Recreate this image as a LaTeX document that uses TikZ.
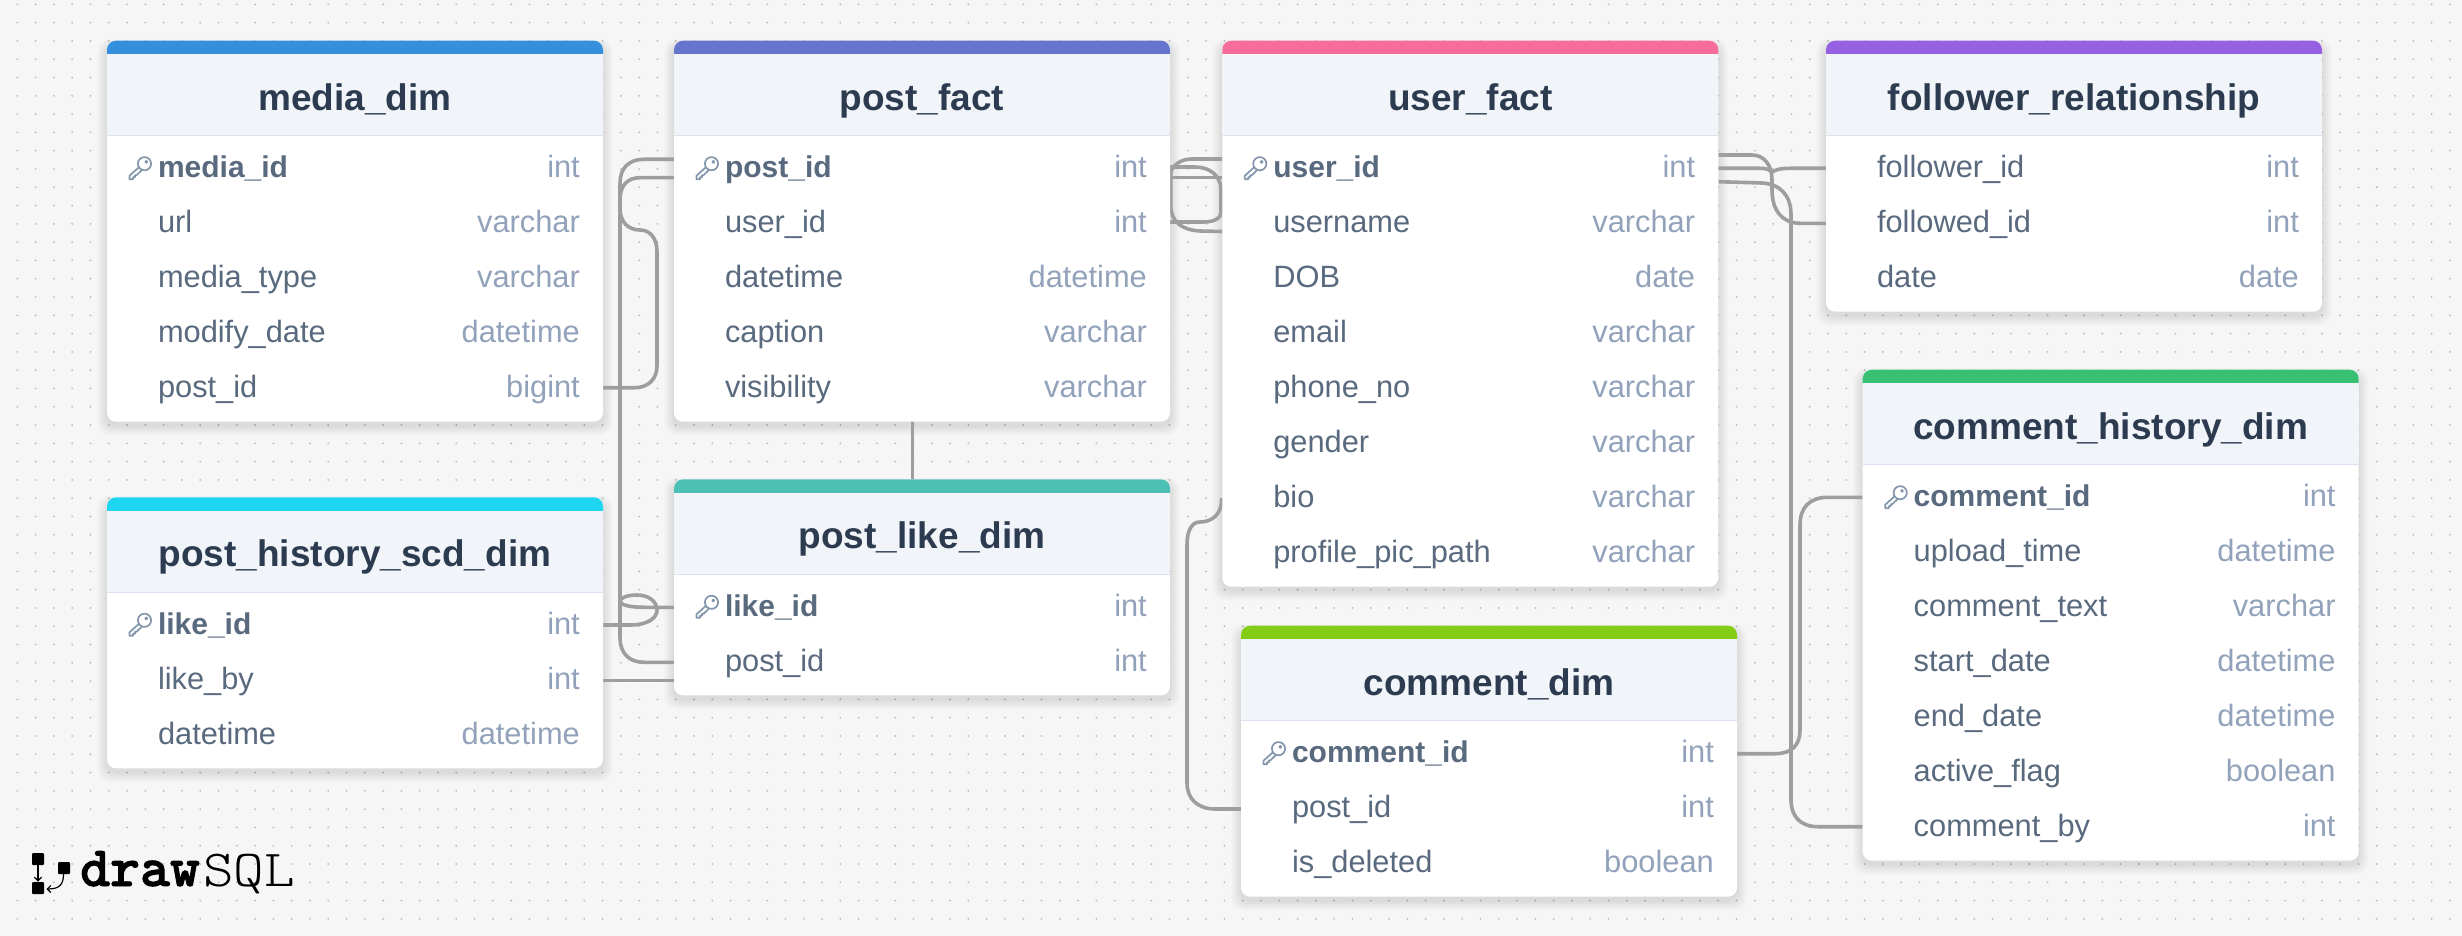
\documentclass[tikz,border=0pt]{standalone}
\usepackage{fontspec}
\setmainfont{Liberation Sans}
\newfontfamily\logobold{lmmonolt10-bold.otf}[FakeBold=1.6]
\newfontfamily\logolight{lmmonolt10-regular.otf}
\usetikzlibrary{arrows.meta}
\pgfdeclarelayer{dotlayer}
\pgfdeclarelayer{shadowlayer}
\pgfdeclarelayer{linklayer}
\pgfsetlayers{dotlayer,shadowlayer,linklayer,main}
\definecolor{pagebg}{HTML}{F6F6F6}
\definecolor{dotc}{HTML}{BEBEBE}
\definecolor{linkc}{HTML}{9E9E9E}
\definecolor{headbg}{HTML}{F1F5F9}
\definecolor{headln}{HTML}{DAE3EF}
\definecolor{titlec}{HTML}{2D3B50}
\definecolor{namec}{HTML}{5A6A7E}
\definecolor{typec}{HTML}{92A2BA}
\definecolor{keyc}{HTML}{8496AB}
\definecolor{cmedia}{HTML}{3490DC}
\definecolor{cpost}{HTML}{6574CD}
\definecolor{cuser}{HTML}{F66D9B}
\definecolor{cfollow}{HTML}{9561E2}
\definecolor{chist}{HTML}{38C172}
\definecolor{clike}{HTML}{4DC0B5}
\definecolor{cscd}{HTML}{1FD6F0}
\definecolor{ccomm}{HTML}{84CC16}
\tikzset{
  tablebody/.style={fill=white,rounded corners=9pt,anchor=north west,minimum width=496pt,inner sep=0pt,outer sep=0pt},
  tabletitle/.style={anchor=base,text=titlec,font=\fontsize{37}{41}\selectfont\bfseries,inner sep=0pt},
  fieldname/.style={anchor=base west,text=namec,font=\fontsize{30.8}{34}\selectfont,inner sep=0pt},
  keyname/.style={anchor=base west,text=namec,font=\fontsize{30}{34}\selectfont\bfseries,inner sep=0pt},
  fieldtype/.style={anchor=base east,text=typec,font=\fontsize{30.8}{34}\selectfont,inner sep=0pt},
  link/.style={draw=linkc,line width=3.6pt,line join=round},
  keyline/.style={draw=keyc,line width=1.7pt,line join=round},
}
% #1 id, #2 x, #3 top, #4 rows, #5 colour, #6 title, #7 name/type list, #8 1 = first row has a key
\newcommand{\erdtable}[8]{
  \begin{pgfonlayer}{shadowlayer}
    \foreach \sh in {1,2,...,9}{
      \fill[black,opacity=0.011,rounded corners=12pt]
        ({#2-\sh*1.1},{#3-\sh*0.6+4}) rectangle ({#2+496+\sh*1.1},{#3+106+55*#4+\sh*1.1+4});
    }
  \end{pgfonlayer}
  \node[tablebody,minimum height={(106+55*#4)*1pt}] (#1) at (#2,#3) {};
  \fill[#5] ({#2},{#3+14}) {[rounded corners=9pt] -- ({#2},{#3}) -- ({#2+496},{#3})} -- ({#2+496},{#3+14}) -- cycle;
  \fill[headbg] ({#2},{#3+13.3}) rectangle ({#2+496},{#3+95});
  \draw[headln,line width=1.3pt] ({#2},{#3+95}) -- ({#2+496},{#3+95});
  \node[tabletitle] (#1-title) at ({#2+248},{#3+69.6}) {#6};
  \foreach \fname/\ftype [count=\k] in {#7}{
    \pgfmathsetmacro{\by}{#3+136.7+55*(\k-1)}
    \ifnum\k=1 \ifnum#8=1
      \node[keyname] (#1-n\k) at ({#2+50.8},\by) {\fname};
      \begin{scope}[shift={({#2+32.5},{\by-8.7})}]
        \draw[keyline] (0,-2) -- (-10,7) -- (-10,10.5) -- (-6.5,10.5) -- (-6.5,8.5) -- (-4.5,8.5) -- (-4.5,6.5) -- (-3,6.5) -- (2.2,1.5);
        \draw[keyline,fill=white] (5,-5) circle (6.6);
        \draw[keyline,line width=1.3pt] (6.8,-6.8) circle (1.2);
      \end{scope}
    \else
      \node[fieldname] (#1-n\k) at ({#2+50.8},\by) {\fname};
    \fi\else
      \node[fieldname] (#1-n\k) at ({#2+50.8},\by) {\fname};
    \fi
    \node[fieldtype] (#1-t\k) at ({#2+473},\by) {\ftype};
  }
}
\begin{document}
\begin{tikzpicture}[x=1pt,y=-1pt]
\useasboundingbox (0,0) rectangle (2462,936);
\begin{pgfonlayer}{dotlayer}
  \fill[pagebg] (0,0) rectangle (2462,936);
  \foreach \j in {0,...,50}{
    \fill[dotc] \foreach \i in {0,...,134}{
      ({17.3+18.29*\i},{4.38+18.29*\j}) circle (1.05) };
  }
\end{pgfonlayer}

\erdtable{media}{107}{40.7}{5}{cmedia}{media\_dim}{media\_id/int,url/varchar,media\_type/varchar,modify\_date/datetime,post\_id/bigint}{1}
\erdtable{post}{674}{40.7}{5}{cpost}{post\_fact}{post\_id/int,user\_id/int,datetime/datetime,caption/varchar,visibility/varchar}{1}
\erdtable{user}{1222.3}{40.7}{8}{cuser}{user\_fact}{user\_id/int,username/varchar,DOB/date,email/varchar,phone\_no/varchar,gender/varchar,bio/varchar,profile\_pic\_path/varchar}{1}
\erdtable{follow}{1826}{40.7}{3}{cfollow}{follower\_relationship}{follower\_id/int,followed\_id/int,date/date}{0}
\erdtable{hist}{1862.7}{369.7}{7}{chist}{comment\_history\_dim}{comment\_id/int,upload\_time/datetime,comment\_text/varchar,start\_date/datetime,end\_date/datetime,active\_flag/boolean,comment\_by/int}{1}
\erdtable{like}{674}{479.3}{2}{clike}{post\_like\_dim}{like\_id/int,post\_id/int}{1}
\erdtable{scd}{107}{497.3}{3}{cscd}{post\_history\_scd\_dim}{like\_id/int,like\_by/int,datetime/datetime}{1}
\erdtable{comm}{1241}{625.7}{3}{ccomm}{comment\_dim}{comment\_id/int,post\_id/int,is\_deleted/boolean}{1}

% connector ends (just under the table edges)
\coordinate (pfLa) at (post.west |- 0,159.3);
\coordinate (pfLb) at (post.west |- 0,177.7);
\coordinate (plLa) at (like.west |- 0,607.3);
\coordinate (plLb) at (like.west |- 0,662.3);
\coordinate (plLc) at (like.west |- 0,680.3);
\coordinate (mdR) at (media.east |- 0,387.7);
\coordinate (scdRa) at (scd.east |- 0,625);
\coordinate (scdRb) at (scd.east |- 0,680.3);
\coordinate (pfB) at (912.5,421);
\coordinate (plT) at (912.5,480);
\coordinate (pfRa) at (1168,178);
\coordinate (pfRb) at (1168,167);
\coordinate (pfRc) at (1168,177.7);
\coordinate (pfRd) at (1170.7,172);
\coordinate (ufLa) at (user.west |- 0,159);
\coordinate (ufLb) at (1168,222);
\coordinate (ufLc) at (user.west |- 0,177.7);
\coordinate (ufLd) at (user.west |- 0,231.5);
\coordinate (ufLe) at (1221.6,498);
\coordinate (ufRa) at (user.east |- 0,155);
\coordinate (ufRb) at (user.east |- 0,168.3);
\coordinate (ufRc) at (user.east |- 0,181.7);
\coordinate (frLa) at (follow.west |- 0,168.3);
\coordinate (frLb) at (follow.west |- 0,223.3);
\coordinate (cdL) at (comm.west |- 0,809);
\coordinate (cdR) at (comm.east |- 0,753.7);
\coordinate (chLa) at (hist.west |- 0,497.3);
\coordinate (chLb) at (hist.west |- 0,826.7);

\begin{pgfonlayer}{linklayer}
  \draw[link] (pfLa) -- (644,159.3) .. controls (629,159.3) and (620,168) .. (620,183) -- (620,638) .. controls (620,653) and (629,662.3) .. (644,662.3) -- (plLb);
  \draw[link] (pfLb) -- (640,177.7) .. controls (627,177.7) and (620,186) .. (620,200) -- (620,208) .. controls (620,222) and (628,230) .. (640,230) .. controls (650,230) and (657,238) .. (657,252) -- (657,366) .. controls (657,379) and (648,387.7) .. (635,387.7) -- (mdR);
  \draw[link] (scdRa) -- (630,625) .. controls (648,625) and (657,618) .. (657,610) .. controls (657,601) and (648,595) .. (637,595) .. controls (627,595) and (620,598) .. (620,601) .. controls (620,605) and (630,607.3) .. (645,607.3) -- (plLa);
  \draw[link] (scdRb) -- (plLc);
  \draw[link] (pfB) -- (plT);
  \draw[link] (ufLa) -- (1192,159) .. controls (1180,159) and (1172,165) .. (pfRa);
  \draw[link] (pfRb) -- (1195,167) .. controls (1210,167) and (1221,176) .. (1221,190) -- (1221,212) .. controls (1221,218) and (1215,222) .. (1203,222) -- (ufLb);
  \draw[link] (pfRc) -- (ufLc);
  \draw[link] (pfRd) -- (1170.7,205) .. controls (1170.7,222) and (1182,230) .. (1200,231) -- (ufLd);
  \draw[link] (ufLe) -- (1221.6,500) .. controls (1221.6,514) and (1212,522) .. (1200,522) .. controls (1192,522) and (1187,530) .. (1187,545) -- (1187,783) .. controls (1187,799) and (1198,809) .. (1215,809) -- (cdL);
  \draw[link] (ufRa) -- (1752,155) .. controls (1764,155) and (1772,165) .. (1772,180) -- (1772,190) .. controls (1772,210) and (1782,223.3) .. (1800,223.3) -- (frLb);
  \draw[link] (ufRb) -- (1760,168.3) .. controls (1768,168.5) and (1770,170) .. (1772,172) .. controls (1775,170) and (1780,168.3) .. (1790,168.3) -- (frLa);
  \draw[link] (ufRc) -- (1762,183) .. controls (1780,184) and (1791,195) .. (1791,215) -- (1791,800) .. controls (1791,816) and (1800,826.7) .. (1818,826.7) -- (chLb);
  \draw[link] (cdR) -- (1775,753.7) .. controls (1792,753.7) and (1800,745) .. (1800,730) -- (1800,525) .. controls (1800,507) and (1810,497.3) .. (1828,497.3) -- (chLa);
\end{pgfonlayer}

% logo
\fill[black,rounded corners=1pt] (32,853) rectangle (44,865);
\fill[black,rounded corners=1pt] (32,882) rectangle (44,894);
\fill[black,rounded corners=1pt] (58,862) rectangle (70,874);
\coordinate (lgA) at (38,865);
\coordinate (lgB) at (38,881.5);
\coordinate (lgC) at (63.5,874);
\coordinate (lgD) at (46.5,889);
\draw[line width=1.2pt,-{Straight Barb[length=3.5pt,width=7pt]}] (lgA) -- (lgB);
\draw[line width=1.2pt,-{Straight Barb[length=3.5pt,width=7pt]}] (lgC) .. controls (63.5,884) and (60,889) .. (lgD);
\node[anchor=base west,inner sep=0pt,font=\logobold\fontsize{57}{60}\selectfont] (lgdraw) at (80,886) {draw};
\node[anchor=base west,inner sep=0pt,font=\logolight\fontsize{52}{60}\selectfont,xscale=1.12] (lgsql) at (203,886) {SQL};
\end{tikzpicture}
\end{document}
